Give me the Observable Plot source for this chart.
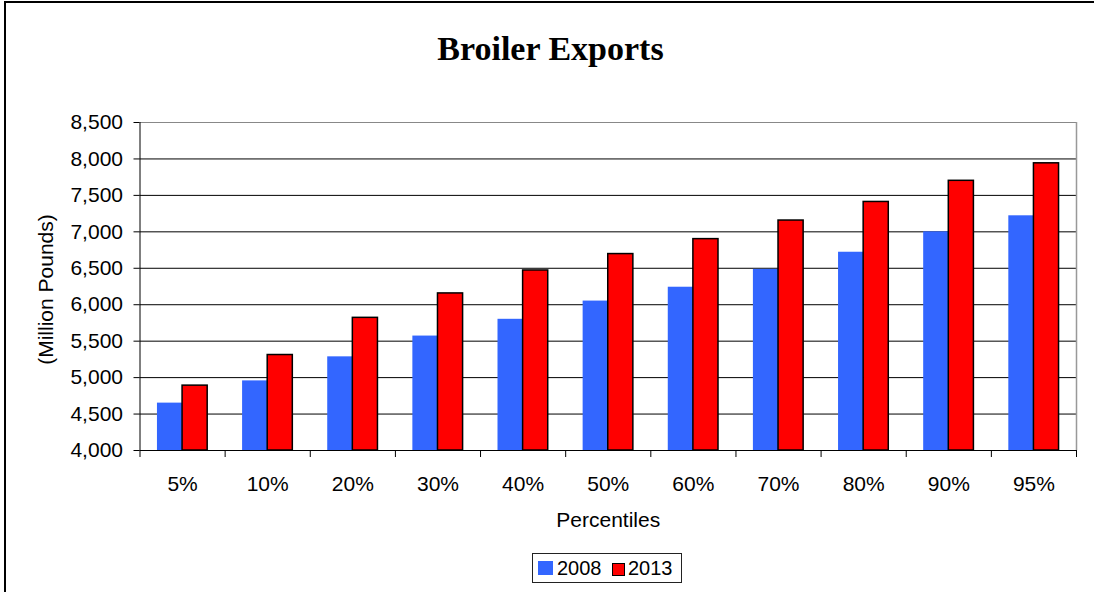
<!DOCTYPE html>
<html>
<head>
<meta charset="utf-8">
<script src="https://cdn.jsdelivr.net/npm/d3@7"></script>
<script src="https://cdn.jsdelivr.net/npm/@observablehq/plot@0.6"></script>
<style>
  html, body { margin: 0; padding: 0; background: #fff; }
  #page { position: relative; width: 1094px; height: 592px; overflow: hidden; background: #fff; }
  #frame { position: absolute; left: 4px; top: 1px; width: 1200px; height: 700px; border-left: 2px solid #000; border-top: 2px solid #000; border-right: 0; border-bottom: 0; box-sizing: border-box; }
  #title { position: absolute; left: 0; top: 31.5px; width: 1101px; text-align: center; font-family: "Liberation Serif", "Times New Roman", serif; font-weight: bold; font-size: 34px; line-height: 34px; color: #000; white-space: nowrap; }
  #chart { position: absolute; left: 0; top: 90px; }
  #legend { position: absolute; left: 532px; top: 553px; width: 150px; height: 30px; border: 1px solid #222; box-sizing: border-box; }
  .sw { position: absolute; box-sizing: border-box; }
  .lt { position: absolute; font-family: "Liberation Sans", Arial, sans-serif; font-size: 20px; line-height: 20px; color: #000; white-space: nowrap; }
</style>
</head>
<body>
<div id="page">
<div id="frame"></div>
<div id="title"></div>
<div id="chart"></div>
<div id="legend"></div>
</div>
<script>
// ---- data ----
const titleText = "Broiler Exports";
const categories = ["5%", "10%", "20%", "30%", "40%", "50%", "60%", "70%", "80%", "90%", "95%"];
const exports2008 = [4650, 4955, 5285, 5570, 5800, 6050, 6240, 6485, 6720, 7000, 7220];
const exports2013 = [4890, 5310, 5820, 6155, 6470, 6695, 6900, 7155, 7410, 7700, 7940];
const seriesNames = ["2008", "2013"];
const seriesColors = ["#3366FF", "#FF0000"];
const yTicks = [4000, 4500, 5000, 5500, 6000, 6500, 7000, 7500, 8000, 8500];
const xLabel = "Percentiles";
const yLabel = "(Million Pounds)";

// ---- layout ----
const W = 1094, H = 460;
const mTop = 32, mBottom = 100, mLeft = 139.5, mRight = 18;
const padInner = 0.41, padOuter = 0.205;
const step = (W - mLeft - mRight) / (categories.length - padInner + 2 * padOuter);
const bw = step * (1 - padInner);

const rows = categories.map((c, i) => ({cat: c, v2008: exports2008[i], v2013: exports2013[i]}));
const yBase = yTicks[0], yMax = yTicks[yTicks.length - 1];
const lastCat = categories[categories.length - 1];

document.getElementById("title").textContent = titleText;

const chart = Plot.plot({
  width: W, height: H, marginTop: mTop, marginBottom: mBottom, marginLeft: mLeft, marginRight: mRight,
  style: {fontFamily: "'Liberation Sans', Arial, sans-serif", fontSize: "21px", color: "#000", background: "transparent", overflow: "visible"},
  x: {type: "band", domain: categories, paddingInner: padInner, paddingOuter: padOuter, align: 0.5, round: false},
  y: {domain: [yBase, yMax]},
  marks: [
    Plot.ruleY(yTicks.slice(1, -1), {stroke: "#000", strokeWidth: 1}),
    Plot.ruleY([yMax], {stroke: "#888", strokeWidth: 1}),
    Plot.barY(rows, {x: "cat", y1: yBase, y2: "v2008", fill: seriesColors[0], insetRight: bw / 2}),
    Plot.barY(rows, {x: "cat", y1: yBase, y2: "v2013", fill: seriesColors[1], stroke: "#000", strokeWidth: 1.5, insetLeft: bw / 2}),
    Plot.ruleX([lastCat], {y1: yBase, y2: yMax, dx: step / 2, stroke: "#999", strokeWidth: 1.5}),
    Plot.ruleY([yBase], {stroke: "#000", strokeWidth: 1}),
    Plot.ruleX([categories[0]], {y1: yBase, y2: yMax, dx: -step / 2, stroke: "#000", strokeWidth: 1}),
    Plot.ruleX(categories, {y1: yBase, y2: yBase, dx: -step / 2, insetBottom: -7, stroke: "#000"}),
    Plot.ruleX([lastCat], {y1: yBase, y2: yBase, dx: step / 2, insetBottom: -7, stroke: "#000"}),
    Plot.axisY({ticks: yTicks, tickFormat: d3.format(","), tickSize: 6, tickPadding: 11, label: null}),
    Plot.axisX({tickSize: 0, tickPadding: 26, label: null}),
    Plot.text([xLabel], {frameAnchor: "bottom", lineAnchor: "middle", textAnchor: "middle", dy: 70}),
    Plot.text([yLabel], {frameAnchor: "left", lineAnchor: "middle", textAnchor: "middle", dx: -94, dy: 3, rotate: -90})
  ]
});
document.getElementById("chart").appendChild(chart);

// ---- legend ----
const legend = document.getElementById("legend");
const legendItems = [
  {sw: {left: 5, top: 7, w: 15, h: 14, border: "none"}, textLeft: 24},
  {sw: {left: 79, top: 9, w: 13, h: 13, border: "1px solid #000"}, textLeft: 95}
];
seriesNames.forEach((name, i) => {
  const it = legendItems[i];
  const s = document.createElement("div");
  s.className = "sw";
  Object.assign(s.style, {left: it.sw.left + "px", top: it.sw.top + "px", width: it.sw.w + "px", height: it.sw.h + "px", background: seriesColors[i], border: it.sw.border});
  legend.appendChild(s);
  const t = document.createElement("div");
  t.className = "lt";
  t.textContent = name;
  Object.assign(t.style, {left: it.textLeft + "px", top: "4px"});
  legend.appendChild(t);
});
</script>
</body>
</html>
